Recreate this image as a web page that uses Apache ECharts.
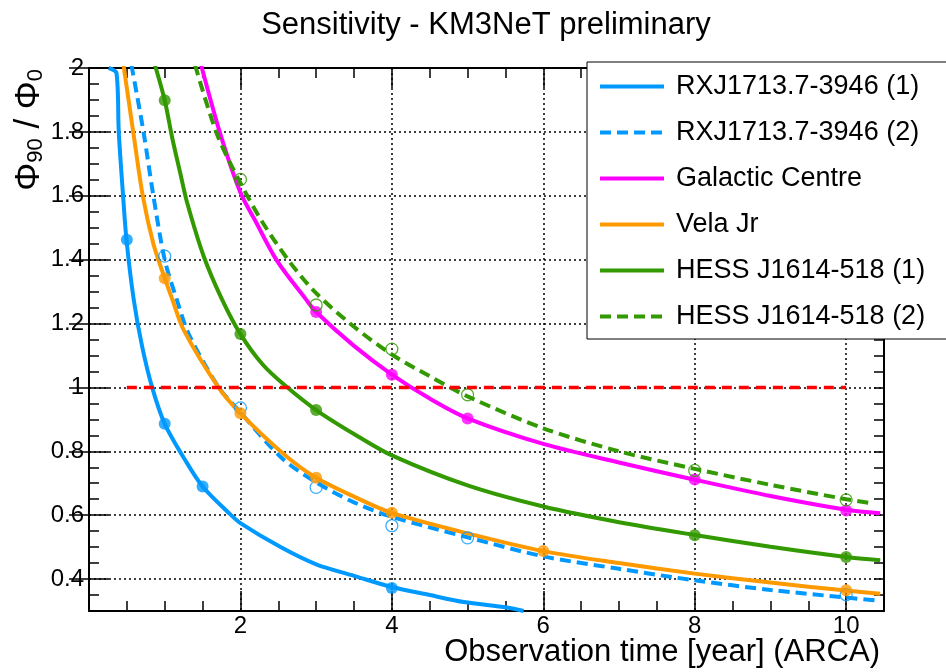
<!DOCTYPE html>
<html>
<head>
    <meta charset="utf-8">
    <title>Sensitivity - KM3NeT preliminary</title>
    <script src="https://cdn.jsdelivr.net/npm/echarts@6/dist/echarts.min.js"></script>
    <style>
        html, body { margin: 0; padding: 0; background: #fff; }
        #main { width: 946px; height: 672px; }
    </style>
</head>
<body>
<div id="main"></div>
<script>
    // axis ranges and tick labels
    var xMin = 0, xMax = 10.5;
    var yMin = 0.3, yMax = 2;
    var xTickLabels = [2, 4, 6, 8, 10];
    var yTickLabels = [0.4, 0.6, 0.8, 1, 1.2, 1.4, 1.6, 1.8, 2];

    var names = ['RXJ1713.7-3946 (1)', 'RXJ1713.7-3946 (2)', 'Galactic Centre',
        'Vela Jr', 'HESS J1614-518 (1)', 'HESS J1614-518 (2)'];

    // fitted curves [year, phi90/phi0]
    var rxj1Curve = [[0.26, 2.0], [0.363, 1.984], [0.393, 1.80], [0.45, 1.60], [0.495, 1.462], [0.59, 1.276],
        [0.7, 1.13], [0.834, 1.0], [1.0, 0.886], [1.274, 0.771], [1.5, 0.69], [1.846, 0.607], [2.0, 0.575],
        [2.53, 0.50], [3.0, 0.446], [3.5, 0.41], [4.0, 0.375], [4.5, 0.35], [4.95, 0.328], [5.52, 0.311], [5.74, 0.30]];
    var rxj2Curve = [[0.56, 2.01], [0.72, 1.80], [0.85, 1.60], [1.0, 1.40], [1.158, 1.276], [1.317, 1.167],
        [1.714, 1.0], [2.0, 0.922], [2.55, 0.778], [3.0, 0.703], [3.5, 0.64], [4.0, 0.595], [5.0, 0.531],
        [6.0, 0.471], [7.0, 0.432], [8.0, 0.396], [9.0, 0.366], [10.0, 0.342], [10.4, 0.333]];
    var gcCurve = [[1.48, 2.01], [1.736, 1.792], [2.0, 1.61], [2.2, 1.52], [2.484, 1.396], [2.858, 1.278], [3.0, 1.236],
        [3.5, 1.13], [4.0, 1.04], [4.5, 0.965], [5.0, 0.903], [6.0, 0.823], [7.0, 0.765], [8.0, 0.711],
        [9.0, 0.66], [10.0, 0.617], [10.45, 0.606]];
    var velaCurve = [[0.455, 2.01], [0.525, 1.896], [0.59, 1.79], [0.71, 1.60], [0.85, 1.45], [1.0, 1.342],
        [1.1, 1.276], [1.25, 1.18], [1.71, 1.0], [2.0, 0.919], [2.594, 0.787], [3.0, 0.717], [3.5, 0.658],
        [4.0, 0.607], [5.0, 0.543], [6.0, 0.4875], [7.0, 0.45], [8.0, 0.417], [9.0, 0.389], [10.0, 0.364], [10.45, 0.354]];
    var hess1Curve = [[0.87, 2.01], [1.0, 1.899], [1.1, 1.78], [1.208, 1.668], [1.3, 1.575], [1.516, 1.41],
        [1.758, 1.275], [2.0, 1.167], [2.3, 1.07], [2.594, 1.005], [3.0, 0.929], [3.5, 0.854], [4.0, 0.787],
        [5.0, 0.693], [6.0, 0.627], [7.0, 0.578], [8.0, 0.538], [9.0, 0.501], [10.0, 0.469], [10.45, 0.459]];
    var hess2Curve = [[1.40, 2.01], [1.692, 1.792], [2.0, 1.64], [2.31, 1.51], [2.66, 1.39], [3.0, 1.295],
        [3.5, 1.19], [4.0, 1.103], [4.5, 1.035], [5.0, 0.972], [6.0, 0.872], [7.0, 0.80], [8.0, 0.745],
        [9.0, 0.695], [10.0, 0.65], [10.34, 0.637]];

    // measured points
    var rxj1Points = [[0.5, 1.462], [1, 0.886], [1.5, 0.69], [4, 0.372]];
    var rxj2Points = [[1, 1.411], [2, 0.936], [3, 0.687], [4, 0.567], [5, 0.529], [10, 0.351]];
    var gcPoints = [[3, 1.236], [4, 1.04], [5, 0.903], [8, 0.712], [10, 0.615]];
    var velaPoints = [[1, 1.342], [2, 0.919], [3, 0.717], [4, 0.6075], [6, 0.4875], [10, 0.365]];
    var hess1Points = [[1, 1.899], [2, 1.167], [3, 0.929], [8, 0.537], [10, 0.469]];
    var hess2Points = [[2, 1.651], [3, 1.258], [4, 1.12], [5, 0.977], [8, 0.74], [10, 0.648]];

    var thresholdLine = [[0.5, 1], [10, 1]];

    var FONT = '"Liberation Sans", Arial, Helvetica, sans-serif';
    var BLUE = '#0099ff', MAGENTA = '#ff00ff', ORANGE = '#ff9900', GREEN = '#339900';
    var DASH = [11, 6];

    function curve(name, data, color, dashed) {
        return {
            name: name, type: 'line', data: data, symbol: 'none', smooth: 0.3,
            clip: true, z: 2, silent: true,
            lineStyle: {color: color, width: 4, type: dashed ? DASH : 'solid'},
            itemStyle: {color: color}
        };
    }

    function dots(name, data, color, hollow) {
        return {
            name: name, type: 'scatter', data: data, symbol: 'circle', symbolSize: hollow ? 12 : 12,
            z: 3, silent: true,
            itemStyle: hollow ? {color: 'rgba(255,255,255,0)', borderColor: color, borderWidth: 1.3} : {color: color}
        };
    }

    var black = {color: '#000', width: 1.5};
    var gridDots = {color: '#000', width: 1.5, type: [2, 3]};

    function fineAxis(pos, interval) {
        var vertical = pos === 'left' || pos === 'right';
        return {
            type: 'value', position: pos, min: vertical ? yMin : xMin, max: vertical ? yMax : xMax,
            interval: interval,
            axisLine: {show: true, onZero: false, lineStyle: {color: '#000', width: 2}},
            axisTick: {show: true, inside: true, length: 10, lineStyle: black},
            axisLabel: {show: false}, splitLine: {show: false}
        };
    }

    var option = {
        animation: false,
        textStyle: {fontFamily: FONT},
        grid: {left: 89, right: 62, top: 68, bottom: 61, outerBoundsMode: 'none'},
        xAxis: [
            fineAxis('bottom', 0.5),
            {
                type: 'value', position: 'bottom', min: xMin, max: xMax, interval: 2,
                axisLine: {show: false},
                axisTick: {show: true, inside: true, length: 20, lineStyle: black},
                axisLabel: {
                    show: true, fontSize: 24, color: '#000', margin: 3, fontFamily: FONT,
                    formatter: function (v) { return xTickLabels.indexOf(v) >= 0 ? String(v) : ''; }
                },
                splitLine: {show: true, lineStyle: gridDots}
            },
            fineAxis('top', 0.5),
            {
                type: 'value', position: 'top', min: xMin, max: xMax, interval: 2,
                axisLine: {show: false},
                axisTick: {show: true, inside: true, length: 20, lineStyle: black},
                axisLabel: {show: false}, splitLine: {show: false}
            }
        ],
        yAxis: [
            fineAxis('left', 0.05),
            {
                type: 'value', position: 'left', min: yMin, max: yMax,
                axisLine: {show: false},
                axisTick: {show: true, inside: true, length: 20, lineStyle: black, customValues: yTickLabels},
                axisLabel: {
                    show: true, fontSize: 24, color: '#000', margin: 5, fontFamily: FONT,
                    customValues: yTickLabels,
                    formatter: function (v) { return String(+v.toFixed(2)); }
                },
                splitLine: {show: true, lineStyle: gridDots}
            },
            fineAxis('right', 0.05),
            {
                type: 'value', position: 'right', min: yMin, max: yMax,
                axisLine: {show: false},
                axisTick: {show: true, inside: true, length: 20, lineStyle: black, customValues: yTickLabels},
                axisLabel: {show: false}, splitLine: {show: false}
            }
        ],
        legend: {
            data: names,
            orient: 'vertical',
            left: 587, top: 62,
            padding: [11, 22, 9, 11],
            itemWidth: 64, itemHeight: 14, itemGap: 19,
            backgroundColor: '#fff', borderColor: '#000', borderWidth: 1, borderRadius: 0,
            selectedMode: false,
            itemStyle: {opacity: 0},
            lineStyle: {width: 4},
            textStyle: {fontSize: 27, color: '#000', fontFamily: FONT, padding: [0, 0, 0, 7]}
        },
        graphic: [
            {
                type: 'text', x: 486, y: 25, silent: true,
                style: {
                    text: 'Sensitivity - KM3NeT preliminary', fontSize: 31, fontFamily: FONT, fill: '#000',
                    align: 'center', verticalAlign: 'middle', textAlign: 'center', textVerticalAlign: 'middle'
                }
            },
            {
                type: 'text', x: 880, y: 652, silent: true,
                style: {
                    text: 'Observation time [year] (ARCA)', fontSize: 31, fontFamily: FONT, fill: '#000',
                    align: 'right', verticalAlign: 'middle', textAlign: 'right', textVerticalAlign: 'middle'
                }
            },
            {
                type: 'text', x: 29, y: 69, rotation: Math.PI / 2, silent: true,
                style: {
                    text: '{a|Φ}{s|90}{a| / Φ}{s|0}',
                    align: 'right', verticalAlign: 'middle', textAlign: 'right', textVerticalAlign: 'middle',
                    rich: {
                        a: {fontSize: 35, fontFamily: FONT, fill: '#000', color: '#000', lineHeight: 36},
                        s: {fontSize: 22, fontFamily: FONT, fill: '#000', color: '#000', lineHeight: 14, verticalAlign: 'bottom'}
                    }
                }
            }
        ],
        series: [
            curve(names[0], rxj1Curve, BLUE, false),
            curve(names[1], rxj2Curve, BLUE, true),
            curve(names[2], gcCurve, MAGENTA, false),
            curve(names[3], velaCurve, ORANGE, false),
            curve(names[4], hess1Curve, GREEN, false),
            curve(names[5], hess2Curve, GREEN, true),
            dots('rxj1 points', rxj1Points, BLUE, false),
            dots('rxj2 points', rxj2Points, BLUE, true),
            dots('gc points', gcPoints, MAGENTA, false),
            dots('vela points', velaPoints, ORANGE, false),
            dots('hess1 points', hess1Points, GREEN, false),
            dots('hess2 points', hess2Points, GREEN, true),
            {
                name: 'threshold', type: 'line', data: thresholdLine, symbol: 'none', z: 4, silent: true,
                lineStyle: {color: '#ff0000', width: 3.5, type: [10, 7]}
            }
        ]
    };

    var myChart = echarts.init(document.getElementById('main'));
    myChart.setOption(option);
</script>
</body>
</html>
